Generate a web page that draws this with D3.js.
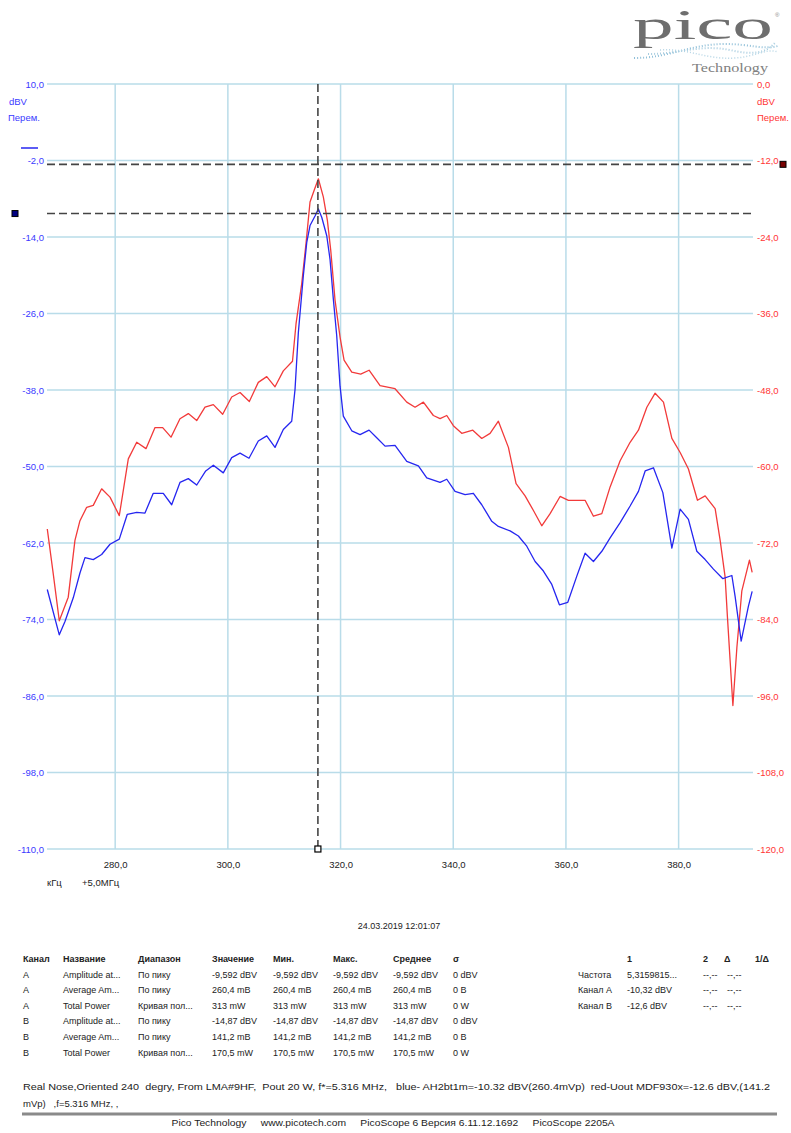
<!DOCTYPE html>
<html><head><meta charset="utf-8">
<script src="https://cdn.jsdelivr.net/npm/d3@7"></script>
<style>
body{margin:0;background:#fff;}
svg{display:block;font-family:"Liberation Sans",Arial,sans-serif;}
</style>
</head><body>
<svg id="c" width="791" height="1133"></svg>
<script>
// ---- data (frequency in kHz, offset +5.0 MHz) ----
const freqBlue = [267.95,270.08,271.09,272.56,273.75,274.64,276.11,277.60,279.08,280.73,282.15,283.82,285.29,286.76,288.54,290.03,291.50,292.98,294.47,296.07,297.42,299.19,300.68,302.16,303.75,305.40,306.90,308.37,309.84,311.33,311.92,312.51,313.39,314.00,314.58,315.47,316.06,316.66,317.55,318.13,318.72,319.32,319.91,320.49,321.99,323.46,325.06,326.42,327.90,329.67,331.75,333.81,335.30,337.66,338.85,340.32,342.10,343.57,345.06,346.84,348.01,350.09,351.56,353.05,354.53,356.00,357.49,358.84,360.33,361.93,363.40,364.88,366.37,367.84,369.62,371.39,372.87,374.06,375.53,377.20,378.80,380.27,381.74,383.23,384.71,386.18,387.85,389.45,390.03,391.10,392.39,393.05];
const blueDBV = [-69.3,-76.4,-74.3,-70.6,-66.7,-64.3,-64.6,-63.8,-62.2,-61.4,-57.5,-57.2,-57.3,-54.2,-54.2,-56.0,-52.5,-51.9,-52.9,-50.7,-49.8,-51.0,-48.6,-47.9,-48.7,-46.0,-45.2,-47.0,-44.2,-42.9,-37.9,-29.0,-20.1,-14.85,-12.2,-10.7,-9.59,-10.9,-13.8,-17.5,-23.75,-29.5,-37.4,-42.1,-44.4,-45.0,-44.3,-45.5,-46.8,-46.7,-49.2,-49.9,-51.8,-52.5,-52.0,-53.9,-54.4,-54.2,-56.0,-58.6,-59.4,-60.1,-60.9,-62.5,-64.9,-66.4,-68.5,-71.7,-71.3,-67.2,-63.6,-64.9,-63.3,-61.2,-58.8,-56.2,-53.9,-50.7,-50.2,-54.1,-62.8,-56.7,-58.3,-63.3,-64.6,-66.1,-67.6,-67.1,-70.4,-77.4,-71.9,-69.6];
const freqRed = [267.95,269.01,270.08,271.67,272.86,273.75,274.94,276.11,277.60,279.08,280.73,282.33,283.82,285.47,287.07,288.43,289.91,291.50,292.98,294.47,295.94,297.42,299.08,300.68,302.16,303.81,305.40,306.90,308.37,309.84,311.47,312.10,313.11,313.87,314.58,315.35,316.06,316.94,317.66,318.26,319.02,319.91,320.62,321.99,323.58,325.06,327.01,329.67,331.75,333.22,334.70,336.47,337.66,338.85,340.02,341.51,343.47,345.06,346.54,348.01,349.79,351.15,352.75,354.23,355.71,357.19,358.96,360.44,363.40,364.88,366.37,367.84,369.62,371.39,372.87,374.36,375.83,377.31,378.80,380.27,381.74,383.34,384.71,386.48,387.37,388.26,388.67,389.63,390.34,391.22,392.57,393.05];
const redDBV = [-69.8,-76.85,-84.2,-80.5,-71.6,-68.5,-66.4,-66.1,-63.5,-64.8,-67.7,-58.8,-56.2,-57.2,-53.9,-53.9,-55.4,-52.5,-51.7,-52.8,-50.7,-50.3,-51.8,-49.1,-48.4,-49.8,-46.8,-45.9,-47.5,-45.0,-43.5,-37.6,-31.3,-25.0,-18.5,-16.6,-14.87,-17.7,-21.4,-26.1,-33.9,-39.7,-43.3,-45.2,-45.5,-44.9,-47.3,-47.8,-49.9,-50.7,-49.9,-52.0,-52.5,-52.0,-53.6,-54.8,-54.3,-55.6,-54.8,-52.9,-57.0,-62.7,-64.6,-66.9,-69.3,-67.4,-64.7,-65.3,-65.3,-67.8,-67.4,-63.2,-59.1,-56.2,-54.3,-50.7,-48.5,-49.9,-55.6,-57.8,-60.4,-65.3,-64.6,-66.6,-71.6,-77.4,-83.7,-97.5,-88.4,-79.5,-74.7,-76.6];

const xTicks = [280,300,320,340,360,380];
const leftTicks = [10,-2,-14,-26,-38,-50,-62,-74,-86,-98,-110];
const rightTicks = [0,-12,-24,-36,-48,-60,-72,-84,-96,-108,-120];
const xDomain = [267.9, 393.2];
const leftDomain = [-110, 10];
const rightDomain = [-120, 0];

const cursorFreq = 315.98;     // 5,3159815 MHz
const cursorA = -10.32;        // Канал A, dBV
const cursorB = -12.6;         // Канал B, dBV

const timestamp = "24.03.2019 12:01:07";
const tableHeader = ["Канал","Название","Диапазон","Значение","Мин.","Макс.","Среднее","σ"];
const tableRows = [
  ["A","Amplitude at...","По пику","-9,592 dBV","-9,592 dBV","-9,592 dBV","-9,592 dBV","0 dBV"],
  ["A","Average Am...","По пику","260,4 mB","260,4 mB","260,4 mB","260,4 mB","0 B"],
  ["A","Total Power","Кривая пол...","313 mW","313 mW","313 mW","313 mW","0 W"],
  ["B","Amplitude at...","По пику","-14,87 dBV","-14,87 dBV","-14,87 dBV","-14,87 dBV","0 dBV"],
  ["B","Average Am...","По пику","141,2 mB","141,2 mB","141,2 mB","141,2 mB","0 B"],
  ["B","Total Power","Кривая пол...","170,5 mW","170,5 mW","170,5 mW","170,5 mW","0 W"]
];
const cursorHeader = ["","1","2","Δ","1/Δ"];
const cursorRows = [
  ["Частота","5,3159815...","--,--","--,--"],
  ["Канал A","-10,32 dBV","--,--","--,--"],
  ["Канал B","-12,6 dBV","--,--","--,--"]
];
const note1 = "Real Nose,Oriented 240  degry, From LMA#9HF,  Pout 20 W, f*=5.316 MHz,   blue- AH2bt1m=-10.32 dBV(260.4mVp)  red-Uout MDF930x=-12.6 dBV,(141.2";
const note2 = "mVp)   ,f=5.316 MHz, ,";
const footer = "Pico Technology     www.picotech.com     PicoScope 6 Версия 6.11.12.1692     PicoScope 2205A";

// ---- layout ----
const L = 47, R = 753, T = 84, B = 849;
const svg = d3.select("#c");
svg.append("rect").attr("width",791).attr("height",1133).attr("fill","#fff");

const x = d3.scaleLinear().domain(xDomain).range([L,R]);
const yL = d3.scaleLinear().domain(leftDomain).range([B,T]);
const yR = d3.scaleLinear().domain(rightDomain).range([B,T]);
const fmt = v => v.toFixed(1).replace(".",",");

const gridC = "#b9dce9";
const blueC = "#2626f0", redC = "#f23a3a";
const blueT = "#3a3aff", redT = "#ff3535";

// grid
const g = svg.append("g");
g.selectAll("line.h").data(leftTicks).join("line")
  .attr("x1",L).attr("x2",R).attr("y1",d=>yL(d)).attr("y2",d=>yL(d))
  .attr("stroke",gridC).attr("stroke-width",1.5);
g.selectAll("line.v").data(xTicks).join("line")
  .attr("x1",d=>x(d)).attr("x2",d=>x(d)).attr("y1",T).attr("y2",B)
  .attr("stroke",gridC).attr("stroke-width",1.5);

// axes labels via d3 axes (styled)
const axL = d3.axisLeft(yL).tickValues(leftTicks).tickFormat(fmt).tickSize(0).tickPadding(3);
const gl = svg.append("g").attr("transform",`translate(${L},0)`).call(axL);
gl.select(".domain").remove();
gl.selectAll("text").attr("fill",blueT).attr("font-size","9.5px").attr("font-family","Liberation Sans, Arial");

const axR = d3.axisRight(yR).tickValues(rightTicks).tickFormat(fmt).tickSize(0).tickPadding(4);
const gr = svg.append("g").attr("transform",`translate(${R},0)`).call(axR);
gr.select(".domain").remove();
gr.selectAll("text").attr("fill",redT).attr("font-size","9.5px").attr("font-family","Liberation Sans, Arial");

const axB = d3.axisBottom(x).tickValues(xTicks).tickFormat(fmt).tickSize(0).tickPadding(12);
const gb = svg.append("g").attr("transform",`translate(0,${B})`).call(axB);
gb.select(".domain").remove();
gb.selectAll("text").attr("fill","#222").attr("font-size","9.5px").attr("font-family","Liberation Sans, Arial");

// unit labels
const txt = (xx,yy,s,opt={}) => svg.append("text").attr("x",xx).attr("y",yy).text(s)
   .attr("font-size",opt.size||"9.5px").attr("fill",opt.fill||"#222")
   .attr("text-anchor",opt.anchor||"start").attr("font-weight",opt.weight||"normal")
   .attr("font-family",opt.family||"Liberation Sans, Arial")
   .attr("xml:space","preserve").style("white-space","pre");
txt(9,105,"dBV",{fill:blueT});
txt(8,121,"Перем.",{fill:blueT});
svg.append("line").attr("x1",21).attr("x2",38).attr("y1",148).attr("y2",148).attr("stroke",blueC).attr("stroke-width",1.5);
txt(757,105,"dBV",{fill:redT});
txt(757,121,"Перем.",{fill:redT});
txt(47,886,"кГц");
txt(82,886,"+5,0МГц");

// traces
const lineBlue = d3.line().x((d,i)=>x(freqBlue[i])).y(d=>yL(d));
const lineRed = d3.line().x((d,i)=>x(freqRed[i])).y(d=>yR(d));
svg.append("path").datum(redDBV).attr("d",lineRed).attr("fill","none")
  .attr("stroke",redC).attr("stroke-width",1.3).attr("stroke-linejoin","round");
svg.append("path").datum(blueDBV).attr("d",lineBlue).attr("fill","none")
  .attr("stroke",blueC).attr("stroke-width",1.3).attr("stroke-linejoin","round");

// cursors
const dash = "8,4";
svg.append("line").attr("x1",L).attr("x2",R).attr("y1",yR(cursorB)).attr("y2",yR(cursorB))
  .attr("stroke","#444").attr("stroke-width",1.6).attr("stroke-dasharray",dash);
svg.append("line").attr("x1",L).attr("x2",R).attr("y1",yL(cursorA)).attr("y2",yL(cursorA))
  .attr("stroke","#444").attr("stroke-width",1.6).attr("stroke-dasharray",dash);
svg.append("line").attr("x1",x(cursorFreq)).attr("x2",x(cursorFreq)).attr("y1",T).attr("y2",B)
  .attr("stroke","#444").attr("stroke-width",1.6).attr("stroke-dasharray",dash);
svg.append("rect").attr("x",12).attr("y",yL(cursorA)-3).attr("width",6).attr("height",6)
  .attr("fill","#000080").attr("stroke","#000").attr("stroke-width",1);
svg.append("rect").attr("x",780).attr("y",yR(cursorB)-3).attr("width",6).attr("height",6)
  .attr("fill","#700").attr("stroke","#000").attr("stroke-width",1);
svg.append("rect").attr("x",x(cursorFreq)-3).attr("y",B-3).attr("width",6).attr("height",6)
  .attr("fill","#fff").attr("stroke","#000").attr("stroke-width",1.2);

// timestamp
txt(399,929,timestamp,{anchor:"middle",size:"9px"});

// table
const colX = [23,63,138,212,273,333,393,453];
const rowY0 = 962, rowDY = 15.6;
tableHeader.forEach((h,i)=>txt(colX[i],rowY0,h,{weight:"bold",size:"9px"}));
tableRows.forEach((r,j)=>r.forEach((c,i)=>txt(colX[i],rowY0+rowDY*(j+1),c,{size:"9px"})));
const cX = [578,627,703,724,755];
cursorHeader.forEach((h,i)=>{ if(h) txt(cX[i],rowY0,h,{weight:"bold",size:"9px"}); });
const cvX = [578,627,703,727];
cursorRows.forEach((r,j)=>r.forEach((c,i)=>txt(cvX[i],rowY0+rowDY*(j+1),c,{size:"9px"})));

// notes & footer
txt(23,1090,note1,{size:"9.5px"}).attr("textLength",747).attr("lengthAdjust","spacingAndGlyphs");
txt(23,1107,note2,{size:"9.5px"});
svg.append("line").attr("x1",22).attr("x2",777).attr("y1",1114).attr("y2",1114).attr("stroke","#8a8a8a").attr("stroke-width",3);
txt(393,1126,footer,{anchor:"middle",size:"9px"}).attr("textLength",443).attr("lengthAdjust","spacingAndGlyphs");

// logo
const logo = svg.append("g");
logo.append("text").attr("x",633).attr("y",39).text("pico")
  .attr("font-family","Liberation Serif, DejaVu Serif, serif").attr("font-size","42px")
  .attr("fill","#6e6e6e").attr("textLength",140).attr("lengthAdjust","spacingAndGlyphs");
logo.append("text").attr("x",775).attr("y",17).text("®").attr("font-size","6px").attr("fill","#888");
logo.append("path").attr("d","M634,58 C670,58 690,44 725,44 C750,44 762,50 778,46")
  .attr("fill","none").attr("stroke","#8fbfd8").attr("stroke-width",2).attr("stroke-dasharray","1,2");
logo.append("path").attr("d","M648,54 C680,54 700,44 730,50 C752,55 765,54 776,42")
  .attr("fill","none").attr("stroke","#a8cde0").attr("stroke-width",2).attr("stroke-dasharray","1,2");
logo.append("path").attr("d","M660,50 C690,48 705,60 735,58 C755,57 765,48 778,52")
  .attr("fill","none").attr("stroke","#b5d5e5").attr("stroke-width",1.5).attr("stroke-dasharray","1,2");
logo.append("text").attr("x",692).attr("y",72).text("Technology")
  .attr("font-family","Liberation Serif, DejaVu Serif, serif").attr("font-size","12px")
  .attr("fill","#808080").attr("textLength",76).attr("lengthAdjust","spacingAndGlyphs");
</script>
</body></html>
